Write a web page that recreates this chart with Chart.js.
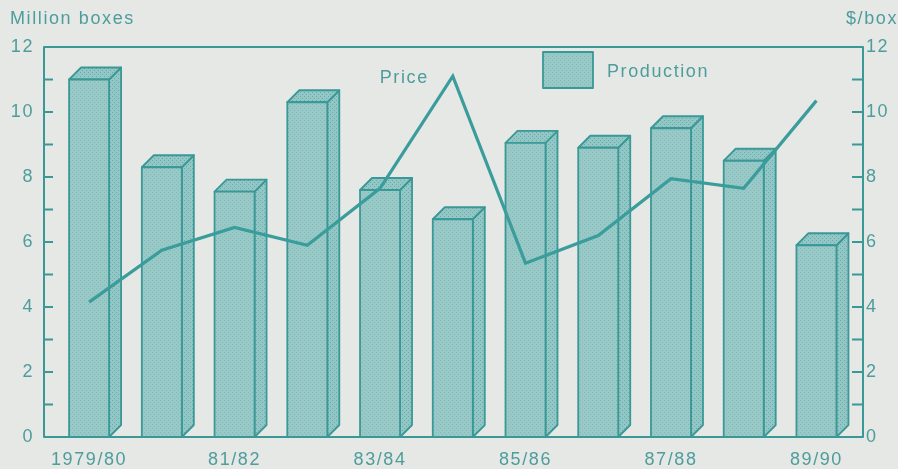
<!DOCTYPE html>
<html>
<head>
<meta charset="utf-8">
<script src="https://cdn.jsdelivr.net/npm/chart.js@4.4.0/dist/chart.umd.min.js"></script>
<style>
  html, body { margin: 0; padding: 0; background: #e6e8e5; }
  #wrap { width: 898px; height: 469px; }
</style>
</head>
<body>
<div id="wrap"><canvas id="myChart" width="898" height="469"></canvas></div>
<script>
// seasons, production (million boxes) and price ($/box)
const seasons = ['1979/80', '80/81', '81/82', '82/83', '83/84', '84/85', '85/86', '86/87', '87/88', '88/89', '89/90'];
const production = [11.0, 8.3, 7.55, 10.3, 7.6, 6.7, 9.05, 8.9, 9.5, 8.5, 5.9];
const price = [4.15, 5.75, 6.45, 5.9, 7.65, 11.1, 5.35, 6.2, 7.95, 7.65, 10.35];
const shownLabels = [0, 2, 4, 6, 8, 10];

const teal = '#3a9896';
const textCol = '#4d9d9c';
const font = { family: "'Liberation Sans', Arial, sans-serif", size: 18 };

// dotted fill like the printed screen
function buatPola(base, dot) {
    const c = document.createElement('canvas');
    c.width = 4; c.height = 4;
    const g = c.getContext('2d');
    g.fillStyle = base;
    g.fillRect(0, 0, 4, 4);
    g.fillStyle = dot;
    g.fillRect(0, 0, 1, 1);
    g.fillRect(2, 2, 1, 1);
    return g.createPattern(c, 'repeat');
}

const ctx = document.getElementById('myChart').getContext('2d');
const polaDepan = buatPola('#98c9c7', '#80bbb9');
const polaSisi = buatPola('#93c7c5', '#64aba9');

const DX = 12, DY = 12;

// 3d boxes, frame, legend and axis titles
const gambar3D = {
    id: 'gambar3D',
    beforeDraw(chart) {
        chart.ctx.letterSpacing = '1.6px';
    },
    beforeDatasetsDraw(chart) {
        const c = chart.ctx;
        const a = chart.chartArea;
        const meta = chart.getDatasetMeta(0);
        c.save();
        c.lineWidth = 1.8;
        c.strokeStyle = teal;
        c.lineJoin = 'round';
        meta.data.forEach(bar => {
            const l = bar.x - bar.width / 2, r = bar.x + bar.width / 2;
            const t = bar.y, b = bar.base;
            // side
            c.beginPath();
            c.moveTo(r, b); c.lineTo(r + DX, b - DY); c.lineTo(r + DX, t - DY); c.lineTo(r, t);
            c.closePath();
            c.fillStyle = polaSisi; c.fill(); c.stroke();
            // top
            c.beginPath();
            c.moveTo(l, t); c.lineTo(l + DX, t - DY); c.lineTo(r + DX, t - DY); c.lineTo(r, t);
            c.closePath();
            c.fillStyle = polaSisi; c.fill(); c.stroke();
            // front
            c.fillStyle = polaDepan;
            c.fillRect(l, t, r - l, b - t);
            c.strokeRect(l, t, r - l, b - t);
        });

        // frame and inward ticks
        c.lineWidth = 2;
        c.strokeRect(a.left, a.top, a.right - a.left, a.bottom - a.top);
        const yL = chart.scales.y, yR = chart.scales.y2;
        for (let v = 0; v <= 12; v++) {
            const py = yL.getPixelForValue(v);
            c.beginPath(); c.moveTo(a.left, py); c.lineTo(a.left + 9, py); c.stroke();
            const pr = yR.getPixelForValue(v);
            c.beginPath(); c.moveTo(a.right, pr); c.lineTo(a.right - 11, pr); c.stroke();
        }

        // legend box
        c.fillStyle = polaDepan;
        c.fillRect(543, 52, 50, 36);
        c.lineWidth = 1.8;
        c.strokeRect(543, 52, 50, 36);
        c.letterSpacing = '1.6px';
        c.font = `${font.size}px ${font.family}`;
        c.fillStyle = textCol;
        c.textBaseline = 'middle';
        c.textAlign = 'left';
        c.fillText(chart.data.datasets[0].label, 607, 72);

        // axis titles
        c.fillText('Million boxes', 10, 19);
        c.textAlign = 'right';
        c.fillText('$/box', 898, 19);
        c.restore();
    },
    afterDatasetsDraw(chart) {
        const c = chart.ctx;
        const pts = chart.getDatasetMeta(1).data;
        const p = pts[5];
        c.save();
        c.letterSpacing = '1.6px';
        c.font = `${font.size}px ${font.family}`;
        c.fillStyle = textCol;
        c.textAlign = 'right';
        c.textBaseline = 'middle';
        c.fillText(chart.data.datasets[1].label, p.x - 24, p.y + 2);
        c.restore();
    }
};

new Chart(ctx, {
    type: 'bar',
    data: {
        datasets: [{
            type: 'bar',
            label: 'Production',
            data: production.map((v, i) => ({ x: i, y: v })),
            backgroundColor: 'rgba(0,0,0,0)',
            borderWidth: 0,
            barThickness: 40,
            yAxisID: 'y',
            order: 2
        }, {
            type: 'line',
            label: 'Price',
            data: price.map((v, i) => ({ x: i, y: v })),
            borderColor: '#3a9d9b',
            borderWidth: 3.2,
            pointRadius: 0,
            tension: 0,
            yAxisID: 'y2',
            order: 1
        }]
    },
    options: {
        responsive: false,
        animation: false,
        layout: { padding: { top: 47, left: 0, right: 0, bottom: 0 } },
        plugins: {
            legend: { display: false },
            tooltip: { enabled: false }
        },
        scales: {
            x: {
                type: 'linear',
                offset: false,
                min: -0.62,
                max: 10.64,
                grid: { display: false, drawTicks: false, offset: false },
                border: { display: false },
                afterBuildTicks: s => { s.ticks = shownLabels.map(v => ({ value: v })); },
                afterFit: s => { s.height = 32; },
                ticks: {
                    font: font,
                    color: textCol,
                    padding: 12,
                    maxRotation: 0,
                    autoSkip: false,
                    callback: v => seasons[v]
                }
            },
            y: {
                position: 'left',
                min: 0,
                max: 12,
                grid: { display: false, drawTicks: false },
                border: { display: false },
                afterFit: s => { s.width = 44; },
                ticks: { stepSize: 2, font: font, color: textCol, padding: 10 }
            },
            y2: {
                position: 'right',
                min: 0,
                max: 12,
                grid: { display: false, drawTicks: false },
                border: { display: false },
                afterFit: s => { s.width = 35; },
                ticks: { stepSize: 2, font: font, color: textCol, padding: 3 }
            }
        }
    },
    plugins: [gambar3D]
});
</script>
</body>
</html>
